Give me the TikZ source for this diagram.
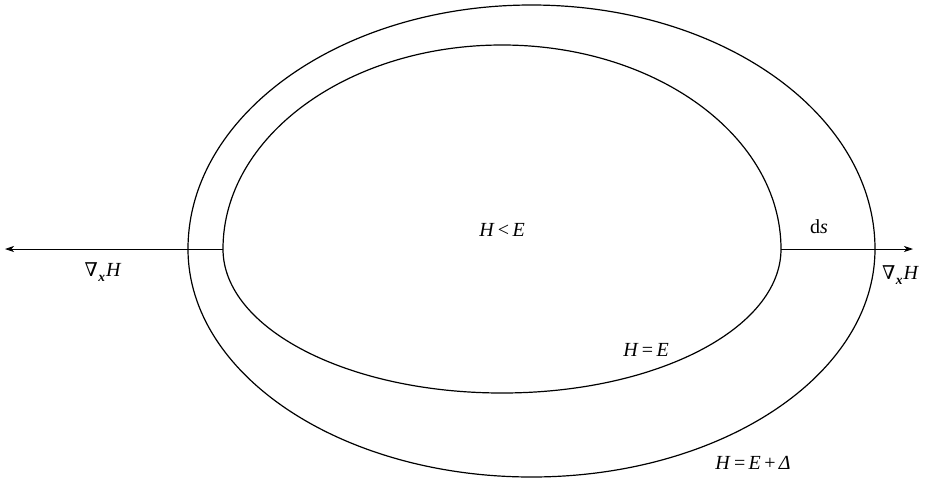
\documentclass[tikz,border=0pt]{standalone}
\usepackage{fontspec}
\setmainfont{Liberation Serif}
\newfontfamily\nablafont{DejaVu Serif}
\usetikzlibrary{arrows.meta}
\newcommand{\mi}[1]{\textit{#1}}
\newcommand{\gradx}{{\nablafont\fontsize{19}{20}\selectfont\char"2207}\kern0.5pt\raisebox{-0.28em}{\fontsize{13.5}{14}\selectfont\bfseries\itshape x}\kern1pt\mi{H}}
\begin{document}
\begin{tikzpicture}[x=1pt,y=-1pt,
  curve/.style={line width=1.2pt},
  gradline/.style={line width=0.8pt,-{Stealth[length=9pt,width=6pt,inset=2.5pt]}},
  lab/.style={anchor=base,inner sep=0pt,font=\fontsize{20}{22}\selectfont}]
\useasboundingbox (0,0) rectangle (927,480);
% outer contour H = E + Delta
\draw[curve] (188,249) arc[start angle=180,end angle=0,x radius=343.5pt,y radius=244pt]
  arc[start angle=0,end angle=-180,x radius=343.5pt,y radius=228pt];
% inner contour H = E
\draw[curve] (223,249) arc[start angle=180,end angle=0,x radius=279pt,y radius=204pt]
  arc[start angle=0,end angle=-180,x radius=279pt,y radius=144pt];
\coordinate (iL) at (223,249);
\coordinate (iR) at (781,249);
\coordinate (tipL) at (5,249);
\coordinate (tipR) at (913,249);
\draw[gradline] (iL) -- (tipL);
\draw[gradline] (iR) -- (tipR);
\node[lab] (lt) at (502,236) {\mi{H}\,<\,\mi{E}};
\node[lab] (gl) at (103,276) {\gradx};
\node[lab,anchor=base west] (gr) at (882,279) {\gradx};
\node[lab] (ds) at (819,233) {d\mi{s}};
\node[lab] (eq) at (646,356) {\mi{H}\,=\,\mi{E}};
\node[lab] (eqd) at (753,469) {\mi{H}\,=\,\mi{E}\,+\,\mi{Δ}};
\end{tikzpicture}
\end{document}
